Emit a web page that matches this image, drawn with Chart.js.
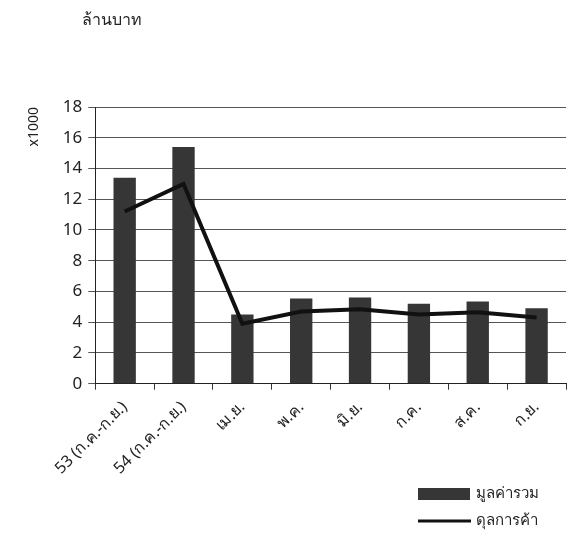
<!DOCTYPE html>
<html>
<head>
<meta charset="utf-8">
<script src="https://cdn.jsdelivr.net/npm/chart.js@4/dist/chart.umd.min.js"></script>
<style>
  body { margin: 0; background: #fff; }
  #wrap { position: relative; width: 572px; height: 538px; }
  #unit { position: absolute; left: 82px; top: 7px; font: 16px "Noto Sans", "DejaVu Sans", sans-serif; color: #222; }
</style>
</head>
<body>
<div id="wrap">
  <div id="unit">ล้านบาท</div>
  <canvas id="c" width="572" height="538"></canvas>
</div>
<script>
const categories = ['53 (ก.ค.-ก.ย.)', '54 (ก.ค.-ก.ย.)', 'เม.ย.', 'พ.ค.', 'มิ.ย.', 'ก.ค.', 'ส.ค.', 'ก.ย.'];
const totalValue = [13.4, 15.4, 4.5, 5.55, 5.6, 5.2, 5.35, 4.9];
const tradeBalance = [11.2, 13.0, 3.9, 4.7, 4.85, 4.5, 4.65, 4.3];
const yTicks = [0, 2, 4, 6, 8, 10, 12, 14, 16, 18];

const font = '"Noto Sans", "DejaVu Sans", sans-serif';

// legend drawn by hand at bottom right, stacked like the original
const sideLegend = {
  id: 'sideLegend',
  afterDraw(chart) {
    const ctx = chart.ctx;
    const ds = chart.data.datasets;
    ctx.save();
    ctx.font = '15px ' + font;
    ctx.fillStyle = '#222';
    ctx.textBaseline = 'middle';
    ds.forEach((d, i) => {
      const y = 494 + i * 27;
      if (d.type === 'bar') {
        ctx.fillStyle = d.backgroundColor;
        ctx.fillRect(418, y - 6, 52, 12);
      } else {
        ctx.strokeStyle = d.borderColor;
        ctx.lineWidth = 3;
        ctx.beginPath();
        ctx.moveTo(418, y);
        ctx.lineTo(471, y);
        ctx.stroke();
      }
      ctx.fillStyle = '#222';
      ctx.fillText(d.label, 476, y);
    });
    ctx.restore();
  }
};

new Chart(document.getElementById('c'), {
  data: {
    labels: categories,
    datasets: [
      {
        type: 'bar',
        label: 'มูลค่ารวม',
        data: totalValue,
        backgroundColor: '#363636',
        barPercentage: 0.38,
        categoryPercentage: 1,
        order: 2,
      },
      {
        type: 'line',
        label: 'ดุลการค้า',
        data: tradeBalance,
        borderColor: '#111',
        borderWidth: 4,
        pointRadius: 0,
        tension: 0,
        order: 1,
      },
    ],
  },
  options: {
    responsive: false,
    animation: false,
    layout: { padding: { left: 26, right: 6, top: 107, bottom: 52 } },
    plugins: {
      legend: { display: false },
      tooltip: { enabled: false },
    },
    scales: {
      x: {
        grid: { drawOnChartArea: false, drawTicks: true, tickLength: 6, color: '#333' },
        border: { color: '#222', width: 1 },
        ticks: { maxRotation: 45, minRotation: 45, color: '#222', font: { family: font, size: 16 }, padding: 8 },
      },
      y: {
        min: 0,
        max: 18,
        afterBuildTicks(axis) { axis.ticks = yTicks.map(v => ({ value: v })); },
        grid: { color: '#555', tickLength: 7, lineWidth: 1 },
        border: { color: '#222', width: 1 },
        ticks: { color: '#222', font: { family: font, size: 17 }, padding: 6 },
        title: { display: true, text: 'x1000', align: 'end', color: '#222', font: { family: font, size: 14 }, padding: { top: 0, bottom: 14 } },
      },
    },
  },
  plugins: [sideLegend],
});
</script>
</body>
</html>
